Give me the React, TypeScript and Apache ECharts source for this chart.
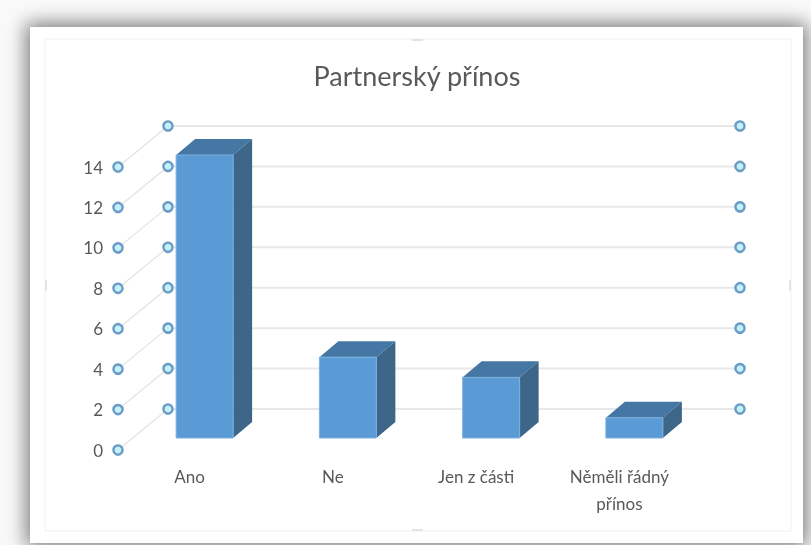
import React, { useEffect, useRef } from "react";
import * as echarts from "echarts";

const categories = ["Ano", "Ne", "Jen z části", "Něměli řádný\npřínos"];
const values = [14, 4, 3, 1];
const axisTicks = [0, 2, 4, 6, 8, 10, 12, 14];
const titleText = "Partnerský přínos";
const FONT = "Lato, 'Open Sans', sans-serif";

const WALL_DX = 50;
const WALL_DY = -41;
const BAR_SHIFT_X = 15;
const BAR_SHIFT_Y = -12;
const BAR_W = 57;
const BAR_DX = 19;
const BAR_DY = -16;

function renderWall(params: any, api: any) {
  const v = api.value(1);
  const cs = params.coordSys;
  const y = api.coord([0, v])[1];
  const fx = cs.x;
  const bx = cs.x + WALL_DX;
  const by = y + WALL_DY;
  const rx = cs.x + cs.width + WALL_DX - 1;
  const dot = (cx: number, cy: number) => ({
    type: "circle",
    shape: { cx, cy, r: 4.6 },
    style: { fill: "#c4f0f7", stroke: "#6a9cc6", lineWidth: 2.4 },
  });
  return {
    type: "group",
    children: [
      { type: "line", shape: { x1: fx, y1: y, x2: bx, y2: by }, style: { stroke: "#e2e2e2", lineWidth: 1.2 } },
      { type: "line", shape: { x1: bx, y1: by, x2: rx, y2: by }, style: { stroke: "#e8e8e8", lineWidth: 2 } },
      dot(fx, y),
      dot(bx, by),
      dot(rx, by),
    ],
  };
}

function renderBar(_params: any, api: any) {
  const cat = api.value(0);
  const top = api.coord([cat, api.value(1)]);
  const base = api.coord([cat, 0]);
  const x0 = top[0] + BAR_SHIFT_X - BAR_W / 2;
  const x1 = x0 + BAR_W;
  const yt = top[1] + BAR_SHIFT_Y;
  const yb = base[1] + BAR_SHIFT_Y;
  return {
    type: "group",
    children: [
      {
        type: "polygon",
        shape: { points: [[x0, yt], [x0 + BAR_DX, yt + BAR_DY], [x1 + BAR_DX, yt + BAR_DY], [x1, yt]] },
        style: { fill: "#4577a4" },
      },
      {
        type: "polygon",
        shape: { points: [[x1, yt], [x1 + BAR_DX, yt + BAR_DY], [x1 + BAR_DX, yb + BAR_DY], [x1, yb]] },
        style: { fill: "#3d6688" },
      },
      {
        type: "rect",
        shape: { x: x0, y: yt, width: BAR_W, height: yb - yt },
        style: { fill: "#5b9bd5", stroke: "#7db1e0", lineWidth: 1 },
      },
    ],
  };
}

export default function App() {
  const ref = useRef<HTMLDivElement>(null);
  useEffect(() => {
    const chart = echarts.init(ref.current!, undefined, { renderer: "svg" });
    const frame = { stroke: "#f6f6f6", lineWidth: 1.5, fill: "transparent" };
    chart.setOption({
      animation: false,
      backgroundColor: "transparent",
      title: {
        text: titleText,
        left: 412,
        top: 57,
        textAlign: "center",
        textStyle: { fontFamily: FONT, fontSize: 27, fontWeight: "normal", color: "#595959" },
      },
      grid: { left: 118, right: 120, top: 167, bottom: 95 },
      xAxis: {
        type: "category",
        data: categories,
        axisLine: { show: false },
        axisTick: { show: false },
        axisLabel: {
          color: "#595959",
          fontFamily: FONT,
          fontSize: 17,
          lineHeight: 27,
          margin: 13,
          interval: 0,
        },
      },
      yAxis: {
        type: "value",
        min: 0,
        max: 14,
        interval: 2,
        axisLine: { show: false },
        axisTick: { show: false },
        splitLine: { show: false },
        axisLabel: { color: "#595959", fontFamily: FONT, fontSize: 17, margin: 15 },
      },
      graphic: [
        { type: "rect", shape: { x: 45, y: 39, width: 746, height: 492 }, style: frame, silent: true },
        { type: "line", shape: { x1: 412, y1: 40, x2: 423, y2: 40 }, style: { stroke: "#e4e4e4", lineWidth: 2 } },
        { type: "line", shape: { x1: 412, y1: 530, x2: 423, y2: 530 }, style: { stroke: "#e4e4e4", lineWidth: 2 } },
        { type: "line", shape: { x1: 46, y1: 280, x2: 46, y2: 291 }, style: { stroke: "#e4e4e4", lineWidth: 2 } },
        { type: "line", shape: { x1: 790, y1: 280, x2: 790, y2: 291 }, style: { stroke: "#e4e4e4", lineWidth: 2 } },
      ],
      series: [
        {
          type: "custom",
          renderItem: renderWall,
          data: axisTicks.map((t) => [0, t]),
          encode: { x: 0, y: 1 },
          clip: false,
          silent: true,
          z: 2,
        },
        {
          type: "custom",
          renderItem: renderBar,
          data: values.map((v, i) => [i, v]),
          encode: { x: 0, y: 1 },
          clip: false,
          silent: true,
          z: 3,
        },
      ],
    });
    return () => chart.dispose();
  }, []);
  return (
    <div style={{ position: "absolute", left: 0, top: 0, width: 811, height: 545, overflow: "hidden", background: "#fafafa" }}>
      <div
        style={{
          position: "absolute",
          left: 30,
          top: 27,
          width: 773,
          height: 516,
          background: "#fff",
          boxShadow: "0 0 18px 4px rgba(0,0,0,0.5)",
        }}
      />
      <div ref={ref} style={{ position: "absolute", left: 0, top: 0, width: 811, height: 545, filter: "blur(0.6px)" }} />
    </div>
  );
}
